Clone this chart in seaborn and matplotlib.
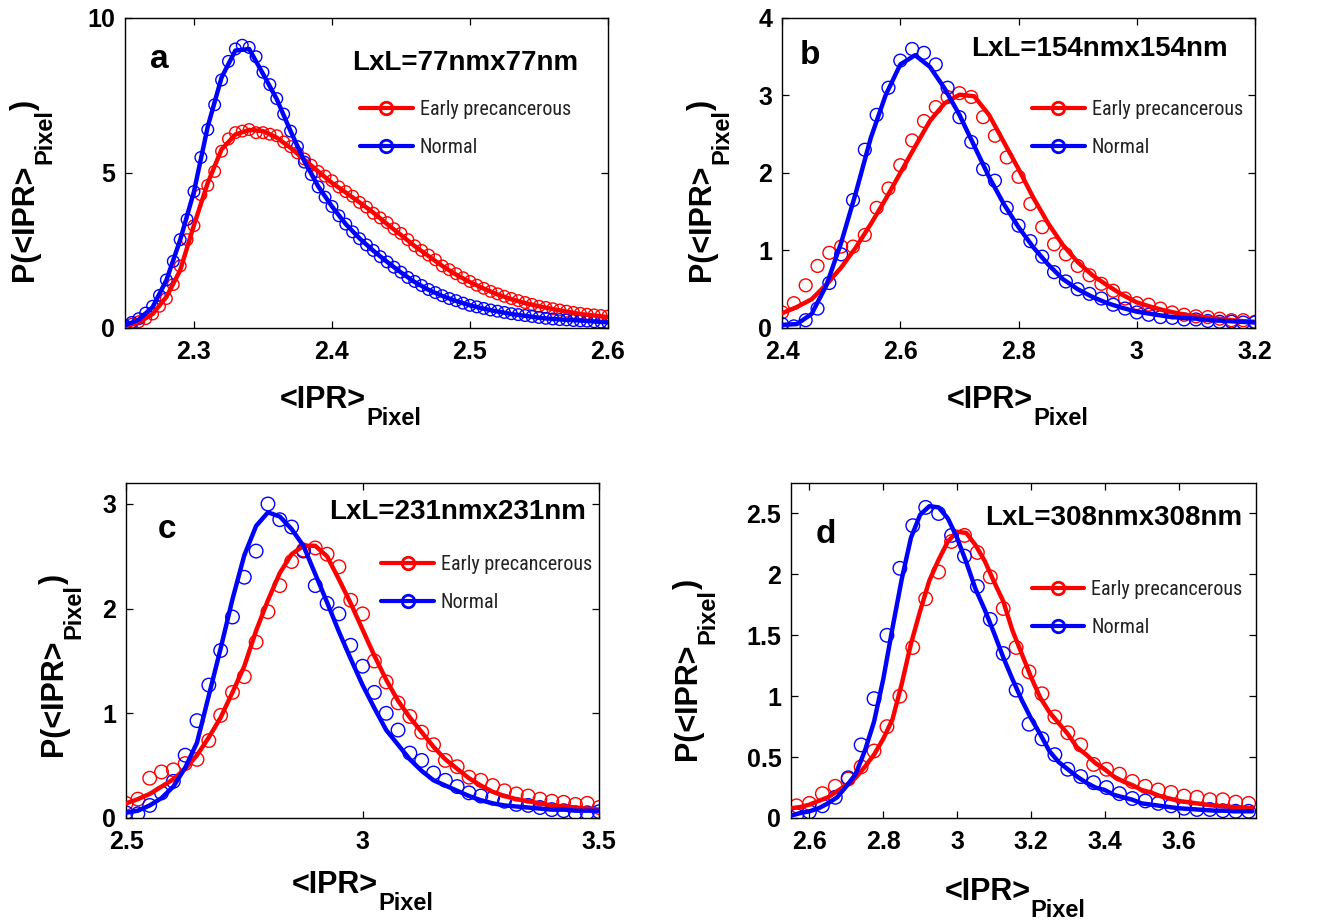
import numpy as np
import pandas as pd
import matplotlib
matplotlib.use("Agg")
import matplotlib.pyplot as plt
import seaborn as sns
from matplotlib.lines import Line2D
from matplotlib.ticker import FuncFormatter
from matplotlib import font_manager as fm

# ---------------- data ----------------
series_names = ["Early precancerous", "Normal"]
panel_letters = ["a", "b", "c", "d"]
panel_sizes = ["LxL=77nmx77nm", "LxL=154nmx154nm", "LxL=231nmx231nm", "LxL=308nmx308nm"]

# panel a
a_pts_x = [2.250, 2.255, 2.260, 2.265, 2.270, 2.275, 2.280, 2.285, 2.290, 2.295, 2.300, 2.305, 2.310, 2.315,
           2.320, 2.325, 2.330, 2.335, 2.340, 2.345, 2.350, 2.355, 2.360, 2.365, 2.370, 2.375, 2.380, 2.385,
           2.390, 2.395, 2.400, 2.405, 2.410, 2.415, 2.420, 2.425, 2.430, 2.435, 2.440, 2.445, 2.450, 2.455,
           2.460, 2.465, 2.470, 2.475, 2.480, 2.485, 2.490, 2.495, 2.500, 2.505, 2.510, 2.515, 2.520, 2.525,
           2.530, 2.535, 2.540, 2.545, 2.550, 2.555, 2.560, 2.565, 2.570, 2.575, 2.580, 2.585, 2.590, 2.595, 2.600]
a_pts_red = [0.05, 0.12, 0.20, 0.30, 0.45, 0.70, 0.95, 1.40, 2.00, 2.85, 3.30, 4.30, 4.60, 5.05,
             5.70, 6.10, 6.30, 6.35, 6.40, 6.30, 6.30, 6.25, 6.20, 6.00, 5.85, 5.65, 5.45, 5.25,
             5.05, 4.90, 4.75, 4.55, 4.40, 4.25, 4.05, 3.90, 3.70, 3.55, 3.40, 3.20, 3.05, 2.85,
             2.65, 2.50, 2.35, 2.20, 2.00, 1.88, 1.75, 1.62, 1.50, 1.38, 1.28, 1.18, 1.10, 1.02,
             0.95, 0.88, 0.82, 0.76, 0.70, 0.66, 0.62, 0.58, 0.54, 0.50, 0.47, 0.44, 0.42, 0.40, 0.38]
a_pts_blue = [0.08, 0.18, 0.30, 0.48, 0.70, 1.05, 1.55, 2.15, 2.85, 3.50, 4.40, 5.50, 6.40, 7.20,
              8.00, 8.60, 9.00, 9.12, 9.05, 8.75, 8.25, 7.85, 7.40, 6.90, 6.35, 5.85, 5.35, 4.95,
              4.55, 4.22, 3.92, 3.62, 3.35, 3.10, 2.88, 2.68, 2.50, 2.30, 2.13, 1.96, 1.80, 1.63,
              1.50, 1.37, 1.24, 1.14, 1.04, 0.95, 0.88, 0.80, 0.73, 0.68, 0.63, 0.58, 0.54, 0.50,
              0.46, 0.43, 0.40, 0.37, 0.34, 0.31, 0.29, 0.27, 0.26, 0.24, 0.23, 0.22, 0.20, 0.19, 0.17]
a_fit_x = [2.25, 2.26, 2.27, 2.28, 2.29, 2.30, 2.31, 2.32, 2.33, 2.34, 2.35, 2.36, 2.37, 2.38, 2.39, 2.40,
           2.41, 2.42, 2.43, 2.44, 2.45, 2.46, 2.47, 2.48, 2.49, 2.50, 2.51, 2.52, 2.53, 2.54, 2.55, 2.56,
           2.57, 2.58, 2.59, 2.60]
a_fit_red = [0.04, 0.18, 0.45, 1.00, 1.86, 3.32, 4.68, 5.76, 6.24, 6.39, 6.35, 6.14, 5.81, 5.43, 5.05, 4.68,
             4.37, 4.05, 3.72, 3.35, 3.00, 2.64, 2.32, 2.00, 1.72, 1.48, 1.27, 1.08, 0.93, 0.80, 0.70, 0.61,
             0.53, 0.45, 0.40, 0.35]
a_fit_blue = [0.08, 0.27, 0.67, 1.54, 2.84, 4.40, 6.50, 8.08, 8.95, 9.00, 8.20, 7.38, 6.35, 5.38, 4.57, 3.92,
              3.35, 2.89, 2.49, 2.13, 1.79, 1.48, 1.23, 1.03, 0.87, 0.73, 0.62, 0.53, 0.45, 0.39, 0.33, 0.29,
              0.26, 0.24, 0.21, 0.18]

# panel b
b_pts_x = [2.40, 2.42, 2.44, 2.46, 2.48, 2.50, 2.52, 2.54, 2.56, 2.58, 2.60, 2.62, 2.64, 2.66, 2.68, 2.70,
           2.72, 2.74, 2.76, 2.78, 2.80, 2.82, 2.84, 2.86, 2.88, 2.90, 2.92, 2.94, 2.96, 2.98, 3.00, 3.02,
           3.04, 3.06, 3.08, 3.10, 3.12, 3.14, 3.16, 3.18, 3.20]
b_pts_red = [0.20, 0.32, 0.55, 0.80, 0.97, 1.05, 1.05, 1.20, 1.55, 1.80, 2.10, 2.42, 2.67, 2.85, 2.98, 3.03,
             2.98, 2.72, 2.48, 2.20, 1.95, 1.60, 1.30, 1.08, 0.95, 0.80, 0.68, 0.57, 0.48, 0.38, 0.32, 0.30,
             0.25, 0.20, 0.17, 0.15, 0.14, 0.12, 0.10, 0.10, 0.08]
b_pts_blue = [0.05, 0.02, 0.10, 0.25, 0.58, 0.95, 1.65, 2.30, 2.75, 3.10, 3.45, 3.60, 3.55, 3.40, 3.10, 2.72,
              2.40, 2.05, 1.90, 1.55, 1.32, 1.12, 0.92, 0.72, 0.60, 0.50, 0.44, 0.38, 0.30, 0.25, 0.20, 0.17,
              0.14, 0.13, 0.11, 0.11, 0.09, 0.08, 0.08, 0.07, 0.07]
b_fit_x = [2.400, 2.425, 2.450, 2.475, 2.500, 2.525, 2.550, 2.575, 2.600, 2.625, 2.650, 2.675, 2.700, 2.725,
           2.750, 2.775, 2.800, 2.825, 2.850, 2.875, 2.900, 2.925, 2.950, 2.975, 3.000, 3.025, 3.050, 3.075,
           3.100, 3.125, 3.150, 3.175, 3.200]
b_fit_red = [0.19, 0.27, 0.37, 0.56, 0.78, 1.04, 1.34, 1.66, 2.00, 2.34, 2.67, 2.90, 3.01, 2.99,
             2.75, 2.40, 2.05, 1.68, 1.35, 1.07, 0.85, 0.68, 0.55, 0.43, 0.33, 0.27, 0.22, 0.18,
             0.15, 0.13, 0.11, 0.09, 0.08]
b_fit_blue = [0.04, 0.05, 0.18, 0.55, 1.10, 1.75, 2.45, 3.00, 3.40, 3.52, 3.37, 3.09, 2.75, 2.35,
              1.95, 1.60, 1.30, 1.04, 0.82, 0.63, 0.50, 0.40, 0.32, 0.26, 0.21, 0.18, 0.15, 0.13,
              0.12, 0.10, 0.09, 0.08, 0.07]

# panel c
c_x = [2.500, 2.525, 2.550, 2.575, 2.600, 2.625, 2.650, 2.675, 2.700, 2.725, 2.750, 2.775, 2.800, 2.825,
       2.850, 2.875, 2.900, 2.925, 2.950, 2.975, 3.000, 3.025, 3.050, 3.075, 3.100, 3.125, 3.150, 3.175,
       3.200, 3.225, 3.250, 3.275, 3.300, 3.325, 3.350, 3.375, 3.400, 3.425, 3.450, 3.475, 3.500]
c_pts_red = [0.14, 0.18, 0.38, 0.44, 0.46, 0.52, 0.56, 0.74, 0.98, 1.20, 1.35, 1.68, 1.97, 2.22,
             2.45, 2.56, 2.58, 2.52, 2.40, 2.08, 1.95, 1.50, 1.30, 1.10, 0.97, 0.82, 0.70, 0.55,
             0.49, 0.39, 0.36, 0.31, 0.26, 0.23, 0.21, 0.18, 0.16, 0.15, 0.13, 0.14, 0.10]
c_pts_blue = [0.05, 0.04, 0.12, 0.24, 0.35, 0.60, 0.93, 1.27, 1.60, 1.92, 2.30, 2.55, 3.00, 2.85,
              2.78, 2.55, 2.22, 2.05, 1.95, 1.65, 1.45, 1.20, 1.00, 0.84, 0.62, 0.55, 0.43, 0.36,
              0.30, 0.24, 0.21, 0.19, 0.16, 0.13, 0.12, 0.10, 0.08, 0.07, 0.05, 0.05, 0.06]
c_fit_red = [0.14, 0.18, 0.23, 0.30, 0.37, 0.47, 0.60, 0.77, 0.96, 1.20, 1.45, 1.79, 2.08, 2.34,
             2.52, 2.60, 2.60, 2.50, 2.28, 2.05, 1.80, 1.55, 1.32, 1.12, 0.96, 0.82, 0.68, 0.56,
             0.47, 0.38, 0.31, 0.25, 0.21, 0.18, 0.16, 0.14, 0.12, 0.11, 0.10, 0.09, 0.08]
c_fit_blue = [0.05, 0.07, 0.12, 0.19, 0.30, 0.48, 0.72, 1.17, 1.62, 2.09, 2.51, 2.79, 2.92, 2.88,
              2.76, 2.60, 2.33, 2.06, 1.78, 1.52, 1.27, 1.05, 0.84, 0.70, 0.56, 0.45, 0.36, 0.31,
              0.26, 0.21, 0.17, 0.14, 0.12, 0.11, 0.10, 0.09, 0.08, 0.08, 0.07, 0.07, 0.07]

# panel d
d_pts_x = [2.565, 2.600, 2.635, 2.670, 2.705, 2.740, 2.775, 2.810, 2.845, 2.880, 2.915, 2.950, 2.985, 3.020,
           3.055, 3.090, 3.125, 3.160, 3.195, 3.230, 3.265, 3.300, 3.335, 3.370, 3.405, 3.440, 3.475, 3.510,
           3.545, 3.580, 3.615, 3.650, 3.685, 3.720, 3.755, 3.790]
d_pts_red = [0.10, 0.12, 0.20, 0.26, 0.32, 0.42, 0.55, 0.75, 1.00, 1.40, 1.80, 2.02, 2.27, 2.32,
             2.18, 1.98, 1.72, 1.40, 1.20, 1.02, 0.83, 0.70, 0.60, 0.44, 0.40, 0.36, 0.30, 0.26,
             0.23, 0.21, 0.18, 0.17, 0.15, 0.15, 0.13, 0.12]
d_pts_blue = [0.02, 0.05, 0.10, 0.17, 0.33, 0.60, 0.98, 1.50, 2.05, 2.40, 2.55, 2.50, 2.32, 2.15,
              1.90, 1.63, 1.35, 1.05, 0.77, 0.65, 0.52, 0.40, 0.34, 0.29, 0.25, 0.20, 0.16, 0.14,
              0.12, 0.10, 0.08, 0.07, 0.07, 0.06, 0.055, 0.055]
d_fit_x = [2.550, 2.575, 2.600, 2.625, 2.650, 2.675, 2.700, 2.725, 2.750, 2.775, 2.800, 2.825, 2.850,
           2.875, 2.900, 2.925, 2.950, 2.975, 3.000, 3.025, 3.050, 3.075, 3.100, 3.125, 3.150, 3.175,
           3.200, 3.225, 3.250, 3.275, 3.300, 3.325, 3.350, 3.375, 3.400, 3.425, 3.450, 3.475, 3.500,
           3.525, 3.550, 3.575, 3.600, 3.625, 3.650, 3.675, 3.700, 3.725, 3.750, 3.775, 3.800]
d_fit_red = [0.08, 0.09, 0.11, 0.14, 0.17, 0.22, 0.27, 0.33, 0.42, 0.52, 0.65, 0.81, 1.10,
             1.43, 1.70, 1.95, 2.12, 2.27, 2.35, 2.34, 2.24, 2.11, 1.94, 1.78, 1.54, 1.35,
             1.16, 0.99, 0.87, 0.78, 0.69, 0.58, 0.52, 0.45, 0.40, 0.34, 0.30, 0.27, 0.23,
             0.21, 0.18, 0.16, 0.14, 0.13, 0.12, 0.11, 0.10, 0.095, 0.09, 0.085, 0.08]
d_fit_blue = [0.02, 0.04, 0.055, 0.08, 0.12, 0.17, 0.26, 0.36, 0.55, 0.79, 1.14, 1.56, 1.96,
              2.30, 2.49, 2.56, 2.55, 2.46, 2.30, 2.10, 1.88, 1.71, 1.52, 1.32, 1.14, 0.97,
              0.82, 0.69, 0.55, 0.46, 0.40, 0.34, 0.29, 0.25, 0.23, 0.19, 0.17, 0.15, 0.12,
              0.11, 0.10, 0.09, 0.08, 0.075, 0.07, 0.065, 0.06, 0.06, 0.055, 0.055, 0.055]

# tick values
a_xticks = [2.3, 2.4, 2.5, 2.6]
a_yticks = [0, 5, 10]
b_xticks = [2.4, 2.6, 2.8, 3.0, 3.2]
b_yticks = [0, 1, 2, 3, 4]
c_xticks = [2.5, 3.0, 3.5]
c_yticks = [0, 1, 2, 3]
d_xticks = [2.6, 2.8, 3.0, 3.2, 3.4, 3.6]
d_yticks = [0, 0.5, 1, 1.5, 2, 2.5]

panels = [
    dict(px=a_pts_x, pr=a_pts_red, pb=a_pts_blue, fx=a_fit_x, fr=a_fit_red, fb=a_fit_blue,
         xt=a_xticks, yt=a_yticks),
    dict(px=b_pts_x, pr=b_pts_red, pb=b_pts_blue, fx=b_fit_x, fr=b_fit_red, fb=b_fit_blue,
         xt=b_xticks, yt=b_yticks),
    dict(px=c_x, pr=c_pts_red, pb=c_pts_blue, fx=c_x, fr=c_fit_red, fb=c_fit_blue,
         xt=c_xticks, yt=c_yticks),
    dict(px=d_pts_x, pr=d_pts_red, pb=d_pts_blue, fx=d_fit_x, fr=d_fit_red, fb=d_fit_blue,
         xt=d_xticks, yt=d_yticks),
]

# ---------------- layout / style ----------------
layout = [
    dict(rect=[0.0949, 0.6443, 0.3667, 0.3362], xlim=(2.25, 2.6), ylim=(0, 10), ms=70,
         letter=(0.052, 0.865), size=(0.47, 0.855), leg=(0.487, 0.735),
         ylab=(-0.176, 0.34), xlab=(0.41, -0.184)),
    dict(rect=[0.5938, 0.6443, 0.3592, 0.3362], xlim=(2.4, 3.2), ylim=(0, 4), ms=85,
         letter=(0.038, 0.88), size=(0.40, 0.90), leg=(0.529, 0.735),
         ylab=(-0.137, 0.34), xlab=(0.44, -0.184)),
    dict(rect=[0.0957, 0.1128, 0.3592, 0.3633], xlim=(2.5, 3.5), ylim=(0, 3.2), ms=95,
         letter=(0.066, 0.86), size=(0.43, 0.913), leg=(0.54, 0.785),
         ylab=(-0.12, 0.36), xlab=(0.442, -0.155)),
    dict(rect=[0.6006, 0.1128, 0.3531, 0.3633], xlim=(2.55, 3.81), ylim=(0, 2.75), ms=95,
         letter=(0.052, 0.845), size=(0.417, 0.895), leg=(0.518, 0.71),
         ylab=(-0.19, 0.346), xlab=(0.423, -0.176)),
]

sns.set_style("ticks")
plt.rcParams["font.family"] = ["Liberation Sans", "DejaVu Sans"]
plt.rcParams["font.weight"] = "bold"
plt.rcParams.update({
    "xtick.direction": "in", "ytick.direction": "in",
    "xtick.top": True, "ytick.right": True,
    "xtick.major.size": 5, "ytick.major.size": 5,
    "xtick.major.width": 0.9, "ytick.major.width": 0.9,
    "axes.linewidth": 1.0, "axes.edgecolor": "black",
    "text.color": "black", "axes.labelcolor": "black",
    "xtick.color": "black", "ytick.color": "black",
})

# legend font: prefer a condensed face if one is installed
leg_family, leg_size = "Liberation Sans", 12.5
for fam, sz in [("Liberation Sans Narrow", 15), ("Roboto Condensed", 14.5),
                ("DejaVu Sans Condensed", 13.5)]:
    try:
        fm.findfont(fm.FontProperties(family=fam), fallback_to_default=False)
        leg_family, leg_size = fam, sz
        break
    except Exception:
        pass

colors = {"Early precancerous": "#ff0000", "Normal": "#0000ff"}
LABEL_FS = 22
SUB_FS = 17
TICK_FS = 18

fig = plt.figure(figsize=(13.17, 9.22), dpi=100)
fmt = FuncFormatter(lambda v, p: f"{v:g}")

for i, (pd_, lay) in enumerate(zip(panels, layout)):
    ax = fig.add_axes(lay["rect"])
    pts = pd.DataFrame({
        "x": list(pd_["px"]) * 2,
        "y": list(pd_["pr"]) + list(pd_["pb"]),
        "g": [series_names[0]] * len(pd_["px"]) + [series_names[1]] * len(pd_["px"]),
    })
    fit = pd.DataFrame({
        "x": list(pd_["fx"]) * 2,
        "y": list(pd_["fr"]) + list(pd_["fb"]),
        "g": [series_names[0]] * len(pd_["fx"]) + [series_names[1]] * len(pd_["fx"]),
    })
    for name in series_names:
        sub = pts[pts["g"] == name]
        sns.scatterplot(data=sub, x="x", y="y", ax=ax, marker="o", s=lay["ms"],
                        color=colors[name], facecolors="none", edgecolor=colors[name],
                        linewidth=1.0, legend=False, zorder=2)
    for name in series_names:
        sub = fit[fit["g"] == name]
        sns.lineplot(data=sub, x="x", y="y", ax=ax, color=colors[name], lw=3.2,
                     estimator=None, sort=False, legend=False, zorder=3)

    ax.set_xlim(*lay["xlim"])
    ax.set_ylim(*lay["ylim"])
    ax.set_xticks(pd_["xt"])
    ax.set_yticks(pd_["yt"])
    ax.xaxis.set_major_formatter(fmt)
    ax.yaxis.set_major_formatter(fmt)
    ax.tick_params(axis="x", labelsize=TICK_FS, pad=9, colors="black")
    ax.tick_params(axis="y", labelsize=TICK_FS, pad=7, colors="black")
    for t in ax.get_xticklabels() + ax.get_yticklabels():
        t.set_fontweight("bold")
    for sp in ax.spines.values():
        sp.set_visible(True)
        sp.set_color("black")

    # x label with subscript
    ax.set_xlabel("<IPR>", fontsize=LABEL_FS, fontweight="bold", color="black")
    ax.xaxis.set_label_coords(*lay["xlab"])
    xl = ax.xaxis.label
    ax.annotate("Pixel", xy=(1.0, 0.25), xycoords=xl, ha="left", va="top", color="black",
                fontsize=SUB_FS, fontweight="bold", annotation_clip=False)

    # y label with subscript
    ax.set_ylabel("P(<IPR>", fontsize=LABEL_FS, fontweight="bold", color="black")
    ax.yaxis.set_label_coords(*lay["ylab"])
    yl = ax.yaxis.label
    ys = ax.annotate("Pixel", xy=(0.78, 1.0), xycoords=yl, ha="left", va="bottom", color="black",
                     rotation=90, fontsize=SUB_FS, fontweight="bold", annotation_clip=False)
    ax.annotate(")", xy=(0.5, 1.0), xycoords=(yl, ys), ha="center", va="bottom", color="black",
                rotation=90, fontsize=LABEL_FS, fontweight="bold", annotation_clip=False)

    ax.text(*lay["letter"], panel_letters[i], transform=ax.transAxes, fontsize=24,
            fontweight="bold", ha="left", va="center", color="black")
    ax.text(*lay["size"], panel_sizes[i], transform=ax.transAxes, fontsize=20,
            fontweight="bold", ha="left", va="center", color="black")

    handles = [Line2D([], [], color=colors[n], lw=3, marker="o", mfc="none", ms=9, mew=2)
               for n in series_names]
    leg = ax.legend(handles, series_names, loc="upper left", bbox_to_anchor=lay["leg"],
                    frameon=False, borderpad=0, borderaxespad=0, handlelength=2.6,
                    handletextpad=0.35, labelspacing=0.95,
                    prop={"family": leg_family, "size": leg_size, "weight": "normal"})
    for t in leg.get_texts():
        t.set_color("#222222")

fig.savefig("out.png", dpi=100)
